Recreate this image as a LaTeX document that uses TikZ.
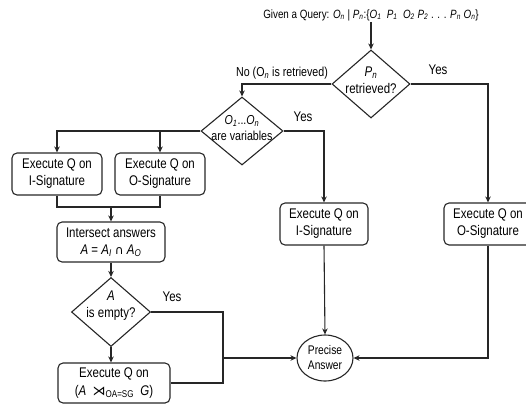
\documentclass[tikz,border=0pt]{standalone}
\usepackage{fontspec}
\setmainfont{Liberation Sans}[FakeStretch=0.82]
\newfontfamily\symfont{DejaVu Sans}
\usetikzlibrary{shapes.geometric,arrows.meta}
\newcommand{\iv}[2]{\textit{#1}\textsubscript{\textit{#2}}}
\begin{document}
\begin{tikzpicture}[x=1pt,y=-1pt,
  fbox/.style={draw=black!85, line width=1.1pt, rounded corners=5pt, minimum width=88pt, minimum height=42pt, align=center, inner sep=1pt, font=\fontsize{14}{17}\selectfont},
  dia/.style={draw=black!85, line width=1.1pt, diamond, inner sep=0pt},
  lbl/.style={font=\fontsize{14}{17}\selectfont, align=center, inner sep=0pt},
  conn/.style={line width=1.1pt, draw=black!85},
  arr/.style={conn, -{Stealth[length=6pt,width=5.5pt]}}]
\useasboundingbox (0,0) rectangle (526,404);

% title
\node[font=\fontsize{12}{14}\selectfont, inner sep=1pt] (title) at (371,15)
  {Given a Query: \iv{O}{n} | \iv{P}{n}:\{\iv{O}{1}\ \ \iv{P}{1}\ \ \iv{O}{2} \iv{P}{2} . . . \iv{P}{n} \iv{O}{n}\}};

% decision P_n
\node[dia, minimum width=78pt, minimum height=68pt] (dP) at (371,84) {};
\node[lbl] (dPt) at (371,80) {\iv{P}{n}\\retrieved?};

% decision O1..On
\node[dia, minimum width=82pt, minimum height=68pt] (d2) at (242,131) {};
\node[lbl, font=\fontsize{13}{16}\selectfont] (d2t) at (242,128) {\iv{O}{1}...\iv{O}{n}\\are variables};

% left boxes
\node[fbox, minimum width=90pt] (b1) at (57,174) {Execute Q on\\I-Signature};
\node[fbox, minimum width=90pt] (b2) at (160,174) {Execute Q on\\O-Signature};
\coordinate (mj) at (111,207);

\node[fbox, minimum width=108pt, minimum height=40pt] (inter) at (111,242)
  {Intersect answers\\\textit{A} = \iv{A}{I} {\symfont\fontsize{12}{14}\selectfont ∩} \iv{A}{O}};

\node[dia, minimum width=79pt, minimum height=69pt] (dA) at (111,312) {};
\node[lbl] (dAt) at (111,306) {\textit{A}\\is empty?};

\node[fbox, minimum width=112pt, minimum height=40pt, font=\fontsize{14}{18}\selectfont] (bJ) at (114,383)
  {Execute Q on\\(\textit{A}\ \ {\symfont\fontsize{13}{15}\selectfont ⋊}\textsubscript{OA=SG}\ \ \textit{G})};

% middle and right boxes
\node[fbox] (mid) at (324,224) {Execute Q on\\I-Signature};
\node[fbox] (osig) at (488,224) {Execute Q on\\O-Signature};

% answer
\node[draw=black!85, line width=1.1pt, ellipse, minimum width=56pt, minimum height=46pt, inner sep=0pt, align=center, font=\fontsize{12.5}{15}\selectfont] (pa) at (325,358) {Precise\\Answer};

\coordinate (jr) at (223,358);

% connectors
\draw[arr] (title) -- (dP.north);
\draw[arr] (dP.west) -| (d2.north);
\draw[arr] (dP.east) -| (osig.north);
\draw[arr] (d2.west) -| (b1.north);
\draw[arr] (d2.west -| b2.north) -- (b2.north);
\draw[arr] (d2.east) -| (mid.north);
\draw[conn] (b1.south) |- (mj) -| (b2.south);
\draw[arr] (mj) -- (inter.north);
\draw[arr] (inter.south) -- (dA.north);
\draw[arr] (dA.south) -- (dA.south |- bJ.north);
\draw[conn] (dA.east) -| (jr) |- (bJ.east);
\draw[arr] (jr) -- (pa.west);
\draw[arr] (mid.south) -- (pa.north);
\draw[arr] (osig.south) |- (pa.east);

% labels
\node[lbl, font=\fontsize{13}{15}\selectfont] (lno) at (282,73) {No (O\textsubscript{\textit{n}} is retrieved)};
\node[lbl] (ly1) at (438,70) {Yes};
\node[lbl] (ly2) at (303,117) {Yes};
\node[lbl] (ly3) at (172,297) {Yes};
\end{tikzpicture}
\end{document}
